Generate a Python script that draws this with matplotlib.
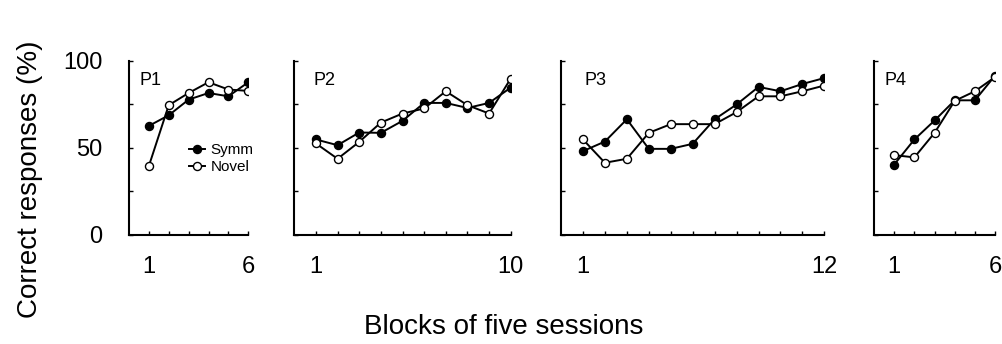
import numpy as np
import matplotlib.pyplot as plt

plt.rcParams['font.family'] = ['Liberation Sans', 'DejaVu Sans']

# correct responses (%) per block of five sessions
p1_symm = [62.7, 68.8, 77.8, 81.6, 79.7, 87.8]
p1_novel = [39.6, 74.6, 81.6, 87.8, 83.6, 82.8]

p2_symm = [54.9, 51.6, 58.9, 58.7, 65.6, 75.9, 75.9, 73.0, 75.9, 84.7]
p2_novel = [52.6, 43.8, 53.5, 64.6, 69.8, 72.7, 82.6, 74.6, 69.8, 89.9]

p3_symm = [48.2, 53.7, 66.5, 49.5, 49.5, 52.4, 66.5, 75.0, 85.1, 82.6, 86.8, 90.2]
p3_novel = [54.9, 41.5, 43.8, 58.7, 63.7, 63.7, 63.7, 70.6, 79.7, 79.7, 82.6, 85.9]

p4_symm = [40.5, 54.9, 65.8, 77.4, 77.4, 91.6]
p4_novel = [45.9, 44.6, 58.7, 77.1, 82.6, 90.8]

names = ['P1', 'P2', 'P3', 'P4']
symm = [p1_symm, p2_symm, p3_symm, p4_symm]
novel = [p1_novel, p2_novel, p3_novel, p4_novel]

fig = plt.figure(figsize=(10.02, 3.44), dpi=100)

# axes rectangles (left, width) in figure fraction
lefts = [0.1287, 0.2937, 0.5599, 0.8723]
widths = [0.1191, 0.2160, 0.2628, 0.1208]
bot, h = 0.3169, 0.5058

axes = []
for i in range(4):
    ax = fig.add_axes([lefts[i], bot, widths[i], h])
    axes.append(ax)
    n = len(symm[i])
    x = np.arange(1, n + 1)
    ax.plot(x, symm[i], '-o', color='black', mfc='black', mec='black',
            ms=5.8, lw=1.4, label='Symm', zorder=3)
    ax.plot(x, novel[i], '-o', color='black', mfc='white', mec='black',
            ms=5.8, lw=1.4, mew=1.0, label='Novel', zorder=3)
    ax.set_xlim(0, n)
    ax.set_ylim(0, 100)
    for s in ['top', 'right']:
        ax.spines[s].set_visible(False)
    for s in ['left', 'bottom']:
        ax.spines[s].set_linewidth(1.5)
    ax.set_xticks(x)
    ax.set_xticklabels(['1'] + [''] * (n - 2) + [str(n)])
    ax.set_yticks([0, 25, 50, 75, 100])
    if i == 0:
        ax.set_yticklabels(['0', '', '50', '', '100'])
    else:
        ax.set_yticklabels([])
    ax.tick_params(direction='in', length=3, width=1.0, labelsize=17)
    ax.tick_params(axis='x', pad=15)
    ax.tick_params(axis='y', pad=19)
    ax.text(0.09, 0.935, names[i], transform=ax.transAxes, fontsize=13,
            va='top', ha='left')
    ax.patch.set_visible(False)

axes[0].legend(loc='center left', bbox_to_anchor=(0.505, 0.44), frameon=False,
               fontsize=11, handlelength=1.0, handletextpad=0.4,
               labelspacing=0.2, borderaxespad=0, borderpad=0)

fig.text(0.503, 0.05, 'Blocks of five sessions', ha='center', va='center',
         fontsize=20)
fig.text(0.03, 0.48, 'Correct responses (%)', ha='center', va='center',
         rotation=90, fontsize=20)

plt.savefig('out.png', dpi=100)
